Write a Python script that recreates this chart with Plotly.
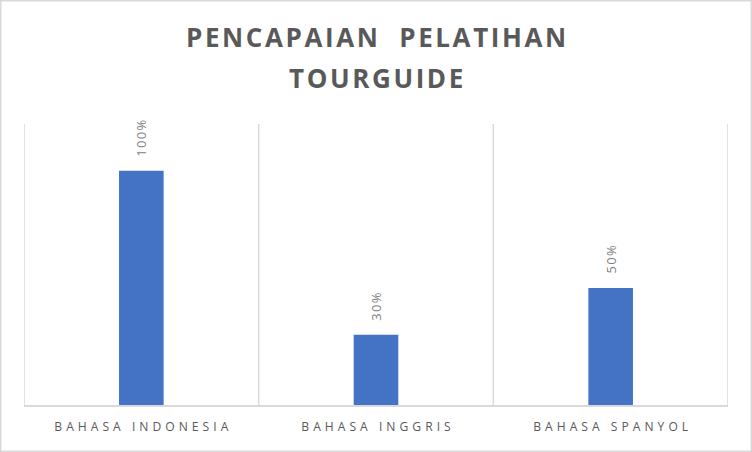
import plotly.graph_objects as go

categories = ["BAHASA INDONESIA", "BAHASA INGGRIS", "BAHASA SPANYOL"]
values = [1.00, 0.30, 0.50]
value_labels = ["100%", "30%", "50%"]
title_lines = ["PENCAPAIAN  PELATIHAN", "TOURGUIDE"]

HAIR = "\u200a"
TPM = "\u2004"

def spaced(s, sep):
    return sep.join(list(s))

tick_text = [spaced(c, TPM) for c in categories]
label_text = [spaced(v, HAIR) for v in value_labels]

fig = go.Figure()
fig.add_trace(go.Bar(
    x=categories,
    y=values,
    width=0.19,
    marker=dict(color="#4472C4", line=dict(width=0)),
    cliponaxis=False,
    hoverinfo="skip",
))

# value labels above the bars
for c, v, t in zip(categories, values, label_text):
    fig.add_annotation(
        x=c, y=v, xref="x", yref="y", text=t, textangle=-90,
        showarrow=False, yanchor="bottom", yshift=12,
        font=dict(family="Open Sans", size=13, color="#7f7f7f"),
    )

# boundaries between categories as vertical gridlines
for xb in [-0.5, 0.5, 1.5, 2.5]:
    fig.add_shape(type="line", xref="x", yref="paper", x0=xb, x1=xb, y0=0, y1=1,
                  line=dict(color="#d9d9d9", width=1.5), layer="above")

for i, line in enumerate(title_lines):
    fig.add_annotation(
        text="<b>" + spaced(line, HAIR) + "</b>",
        xref="paper", yref="paper", x=0.5, xanchor="center",
        y=[1.311, 1.165][i], yanchor="middle",
        showarrow=False,
        font=dict(family="Open Sans", size=26, color="#595959"),
    )

# outer chart border
fig.add_shape(type="rect", xref="paper", yref="paper",
              x0=-23.3/704, x1=1+23.3/704, y0=-46.3/281, y1=1+123.3/281,
              line=dict(color="#d9d9d9", width=1.5), layer="below")

fig.update_layout(
    width=752, height=452,
    margin=dict(l=24, r=24, t=124, b=47, autoexpand=False),
    paper_bgcolor="white", plot_bgcolor="rgba(0,0,0,0)",
    showlegend=False,
    xaxis=dict(
        tickmode="array", tickvals=categories, ticktext=tick_text,
        tickfont=dict(family="Open Sans", size=12.1, color="#595959"),
        showgrid=False, showline=True, linecolor="#d9d9d9", linewidth=1.5,
        ticks="", ticklabelstandoff=10, range=[-0.5, 2.5], fixedrange=True,
    ),
    yaxis=dict(range=[0, 1.2], visible=False, fixedrange=True),
)

fig.write_html("out.html", config={"displayModeBar": False},
               post_script="document.body.style.margin='0';")
